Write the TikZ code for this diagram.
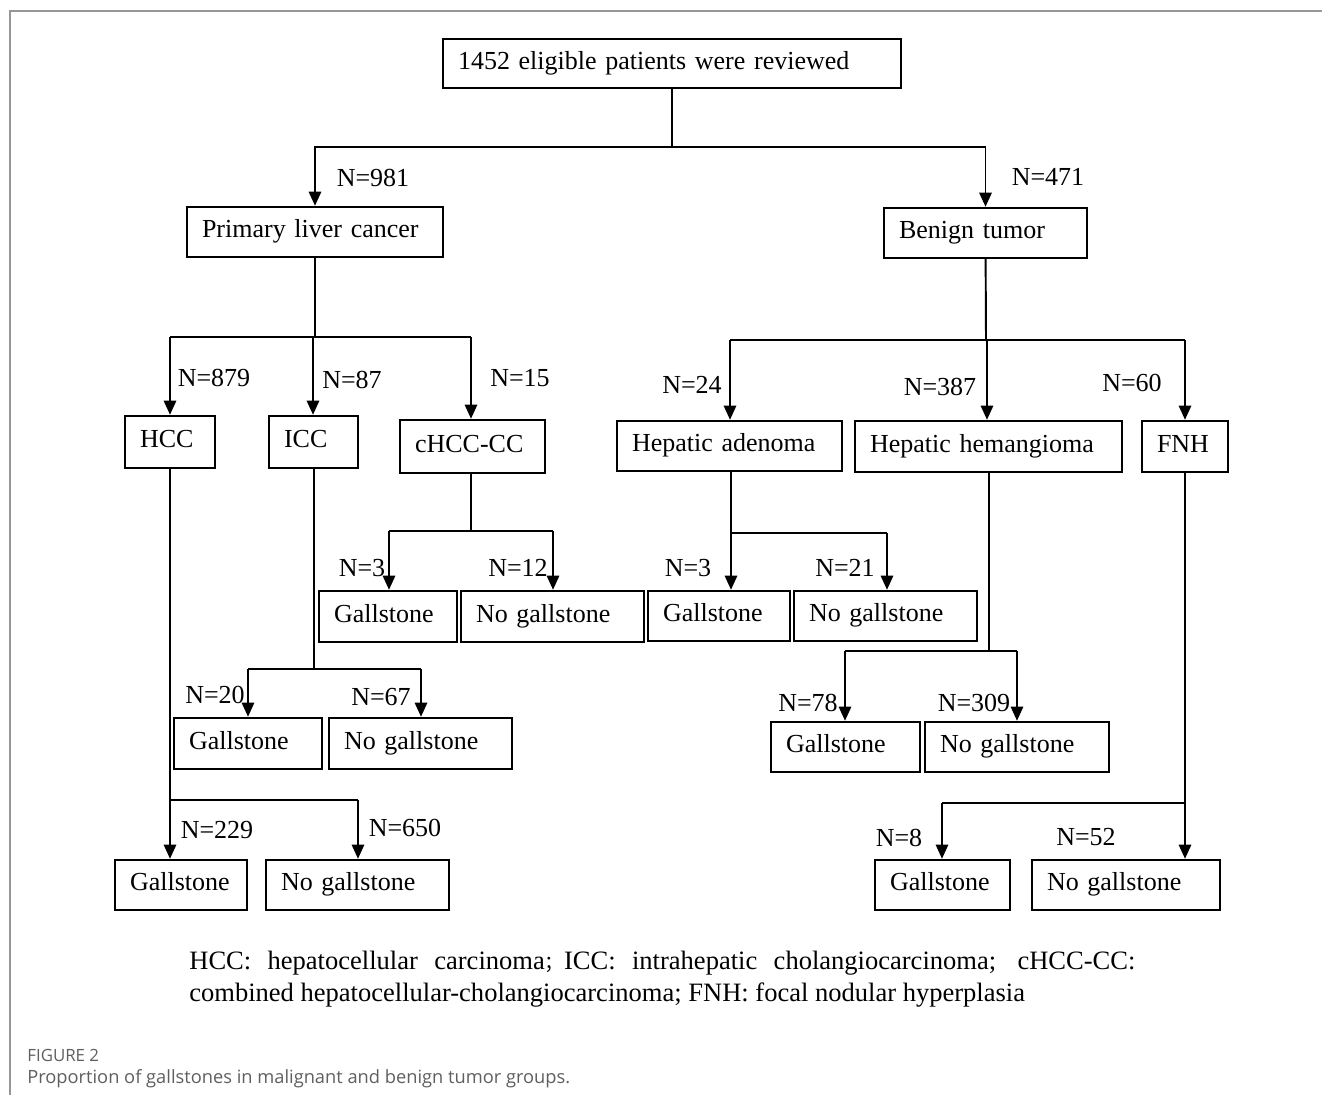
\documentclass[tikz,border=0pt]{standalone}
\usepackage{fontspec}
\setmainfont{Liberation Serif}
\newfontfamily\capfont{Open Sans}
\newfontfamily\cjk{Noto Sans CJK SC}
\usetikzlibrary{arrows.meta}
\definecolor{framegray}{RGB}{150,150,150}
\definecolor{capgray}{RGB}{95,95,95}

\begin{document}
\begin{tikzpicture}[x=0.02cm,y=-0.02cm,>={Triangle[width=7pt,length=8pt]},
    box/.style 2 args={draw,line width=1.4pt,inner xsep=0.3cm,inner ysep=0pt,align=left,
      text width=(#1-30)*0.02cm,minimum height=#2*0.02cm,text height=0.9em,text depth=0.24em,
      font=\fontsize{14.8}{17}\selectfont},
    lab/.style={inner sep=0pt,font=\fontsize{14.8}{17}\selectfont},
    link/.style={-,line width=1.1pt},
    arr/.style={->,line width=1.1pt}]
   \useasboundingbox (0,0) rectangle (1322,1095);
   \draw[framegray,line width=0.8pt] (1322,11) -- (10,11) -- (10,1095);
   % first levels
   \node[box={458}{49}] (top) at (672,63.5) {1452 eligible patients were reviewed};
   \node[box={256}{50}] (plc) at (315,232) {Primary liver cancer};
   \node[box={203}{50}] (ben) at (985.5,233) {Benign tumor};
   \node[box={90}{52}] (hcc) at (170,442) {HCC};
   \node[box={89}{52}] (icc) at (313.5,442) {ICC};
   \node[box={145}{53}] (chcc) at (472.5,446.5) {cHCC-CC};
   \node[box={225}{50}] (had) at (729.5,446) {Hepatic adenoma};
   \node[box={267}{51}] (hhe) at (988.5,446.5) {Hepatic hemangioma};
   \node[box={86}{51}] (fnh) at (1185,446.5) {FNH};
   % gallstone boxes
   \node[box={138}{51}] (cgs) at (388,616.5) {Gallstone};
   \node[box={183}{51}] (cngs) at (552.5,616.5) {No gallstone};
   \node[box={142}{50}] (ags) at (719,616) {Gallstone};
   \node[box={183}{50}] (angs) at (885.5,616) {No gallstone};
   \node[box={149}{50}] (hgs) at (845.5,747) {Gallstone};
   \node[box={184}{50}] (hngs) at (1017,747) {No gallstone};
   \node[box={148}{51}] (igs) at (248,743.5) {Gallstone};
   \node[box={183}{51}] (ings) at (420.5,743.5) {No gallstone};
   \node[box={132}{50}] (hcgs) at (181,885) {Gallstone};
   \node[box={183}{50}] (hcngs) at (357.5,885) {No gallstone};
   \node[box={135}{50}] (fgs) at (942.5,885) {Gallstone};
   \node[box={188}{50}] (fngs) at (1126,885) {No gallstone};
   % labels
   \node[lab] (n981) at (373,178) {N=981};
   \node[lab] (n471) at (1048,177) {N=471};
   \node[lab] (n879) at (214,378) {N=879};
   \node[lab] (n87) at (352,380) {N=87};
   \node[lab] (n15) at (520,378) {N=15};
   \node[lab] (n24) at (692,385) {N=24};
   \node[lab] (n387) at (940,387) {N=387};
   \node[lab] (n60) at (1132,383) {N=60};
   \node[lab] (nc3) at (362,568) {N=3};
   \node[lab] (nc12) at (518,568) {N=12};
   \node[lab] (na3) at (688,568) {N=3};
   \node[lab] (na21) at (845,568) {N=21};
   \node[lab] (nh78) at (808,703) {N=78};
   \node[lab] (nh309) at (974,703) {N=309};
   \node[lab] (ni20) at (215,695) {N=20};
   \node[lab] (ni67) at (381,697) {N=67};
   \node[lab] (n229) at (217,830) {N=229};
   \node[lab] (n650) at (405,828) {N=650};
   \node[lab] (nf8) at (899,838) {N=8};
   \node[lab] (nf52) at (1086,837) {N=52};
   % split points
   \coordinate (s0) at (672,147);
   \coordinate (s1) at (315,337);
   \coordinate (s1a) at (170,337);
   \coordinate (s1b) at (313,337);
   \coordinate (s1c) at (471,337);
   \coordinate (s2) at (986,340);
   \coordinate (s2a) at (730,340);
   \coordinate (s2b) at (987,340);
   \coordinate (s2c) at (1185,340);
   \coordinate (s3) at (471,531);
   \coordinate (s3a) at (389,531);
   \coordinate (s3b) at (553,531);
   \coordinate (s4) at (731,533);
   \coordinate (s4b) at (887,533);
   \coordinate (s5) at (989,651);
   \coordinate (s5a) at (845,651);
   \coordinate (s5b) at (1017,651);
   \coordinate (s6) at (314,669);
   \coordinate (s6a) at (248,669);
   \coordinate (s6b) at (421,669);
   \coordinate (s7) at (170,800);
   \coordinate (s7b) at (358,800);
   \coordinate (s8) at (1185,803);
   \coordinate (s8a) at (942,803);
   % connectors
   \draw[link] (top) -- (s0);
   \draw[arr] (s0) -| (plc);
   \draw[arr] (s0) -| (ben);
   \draw[link] (plc) -- (s1);
   \draw[link] (s1a) -- (s1c);
   \draw[arr] (s1a) -- (s1a |- hcc.north);
   \draw[arr] (s1b) -- (s1b |- icc.north);
   \draw[arr] (s1c) -- (s1c |- chcc.north);
   \draw[link] (ben) -- (s2);
   \draw[link] (s2a) -- (s2c);
   \draw[arr] (s2a) -- (s2a |- had.north);
   \draw[arr] (s2b) -- (s2b |- hhe.north);
   \draw[arr] (s2c) -- (s2c |- fnh.north);
   \draw[link] (s3 |- chcc.south) -- (s3);
   \draw[link] (s3a) -- (s3b);
   \draw[arr] (s3a) -- (s3a |- cgs.north);
   \draw[arr] (s3b) -- (s3b |- cngs.north);
   \draw[arr] (s4 |- had.south) -- (s4 |- ags.north);
   \draw[link] (s4) -- (s4b);
   \draw[arr] (s4b) -- (s4b |- angs.north);
   \draw[link] (s5 |- hhe.south) -- (s5);
   \draw[link] (s5a) -- (s5b);
   \draw[arr] (s5a) -- (s5a |- hgs.north);
   \draw[arr] (s5b) -- (s5b |- hngs.north);
   \draw[link] (s6 |- icc.south) -- (s6);
   \draw[link] (s6a) -- (s6b);
   \draw[arr] (s6a) -- (s6a |- igs.north);
   \draw[arr] (s6b) -- (s6b |- ings.north);
   \draw[arr] (s7 |- hcc.south) -- (s7 |- hcgs.north);
   \draw[link] (s7) -- (s7b);
   \draw[arr] (s7b) -- (s7b |- hcngs.north);
   \draw[arr] (s8 |- fnh.south) -- (s8 |- fngs.north);
   \draw[link] (s8a) -- (s8);
   \draw[arr] (s8a) -- (s8a |- fgs.north);
   % notes and caption
   \node[anchor=north west,inner sep=0pt,text width=946*0.02cm,align=justify,
     font=\fontsize{15.1}{18.1}\selectfont] (note) at (189,951)
     {HCC: hepatocellular carcinoma{\cjk\fontsize{11}{12}\selectfont ；}ICC: intrahepatic cholangiocarcinoma; cHCC-CC:\linebreak
      combined hepatocellular-cholangiocarcinoma; FNH: focal nodular hyperplasia};
   \node[anchor=west,inner sep=0pt,text=capgray,font=\capfont\fontsize{9.6}{11}\selectfont] (fig) at (27,1055) {FIGURE 2};
   \node[anchor=west,inner sep=0pt,text=capgray,font=\capfont\fontsize{10.4}{12}\selectfont] (cap) at (27,1079)
     {Proportion of gallstones in malignant and benign tumor groups.};
\end{tikzpicture}
\end{document}
